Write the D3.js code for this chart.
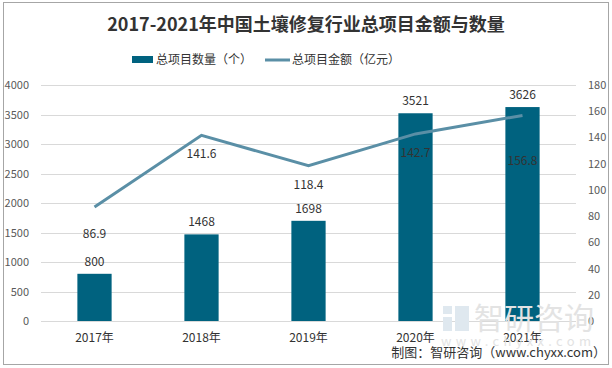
<!DOCTYPE html>
<html>
<head>
<meta charset="utf-8">
<script src="https://cdn.jsdelivr.net/npm/d3@7"></script>
<style>
  body { margin: 0; background: #fff; }
  text { font-family: "Microsoft YaHei", "Noto Sans CJK SC", sans-serif; }
</style>
</head>
<body>
<svg id="chart" width="612" height="368"></svg>
<script>
// chart data
const years = ["2017年", "2018年", "2019年", "2020年", "2021年"];
const projectCount = [800, 1468, 1698, 3521, 3626];
const projectAmount = [86.9, 141.6, 118.4, 142.7, 156.8];
const leftTicks = [0, 500, 1000, 1500, 2000, 2500, 3000, 3500, 4000];
const rightTicks = [0, 20, 40, 60, 80, 100, 120, 140, 160, 180];
// label nudges below the line points (px)
const amountLabelShift = [27, 19, 19, 19, 46];

const svg = d3.select("#chart");
const margin = { top: 85, right: 36, bottom: 47, left: 41 };
const width = 612 - margin.left - margin.right;
const height = 368 - margin.top - margin.bottom;

const barColor = "#00627f";
const lineColor = "#5a8fa6";
const fontStack = "Microsoft YaHei, Noto Sans CJK SC, sans-serif";

// outer frame
svg.append("rect")
    .attr("x", 3.5).attr("y", 2.5)
    .attr("width", 605).attr("height", 362)
    .attr("fill", "#fff").attr("stroke", "#a6a6a6");

// title
svg.append("text")
    .attr("x", 306).attr("y", 31)
    .attr("text-anchor", "middle")
    .attr("font-size", 18).attr("font-weight", "bold")
    .attr("fill", "#333")
    .text("2017-2021年中国土壤修复行业总项目金额与数量");

// legend
const legend = svg.append("g");
legend.append("rect").attr("x", 132).attr("y", 56).attr("width", 21).attr("height", 7).attr("fill", barColor);
legend.append("text").attr("x", 156).attr("y", 64).attr("font-size", 12).attr("fill", "#333").text("总项目数量（个）");
legend.append("line").attr("x1", 265).attr("x2", 290).attr("y1", 60).attr("y2", 60)
    .attr("stroke", lineColor).attr("stroke-width", 3);
legend.append("text").attr("x", 292).attr("y", 64).attr("font-size", 12).attr("fill", "#333").text("总项目金额（亿元）");

const g = svg.append("g").attr("transform", "translate(" + margin.left + "," + margin.top + ")");

const x = d3.scaleBand().domain(years).range([0, width]).paddingInner(0.68).paddingOuter(0.34);
const yLeft = d3.scaleLinear().domain([0, 4000]).range([height, 0]);
const yRight = d3.scaleLinear().domain([0, 180]).range([height, 0]);

// gridlines
g.selectAll(".grid")
    .data(leftTicks)
    .enter().append("line")
    .attr("x1", 0).attr("x2", width)
    .attr("y1", d => Math.round(yLeft(d)) + 0.5)
    .attr("y2", d => Math.round(yLeft(d)) + 0.5)
    .attr("stroke", "#d9d9d9");

// left axis
const leftAxis = g.append("g")
    .call(d3.axisLeft(yLeft).tickValues(leftTicks).tickFormat(d3.format("d")).tickSize(0).tickPadding(12));
leftAxis.select(".domain").remove();
leftAxis.selectAll("text").attr("font-size", 11).attr("fill", "#595959")
    .style("font-family", fontStack);

// right axis
const rightAxis = g.append("g")
    .attr("transform", "translate(" + width + ",0)")
    .call(d3.axisRight(yRight).tickValues(rightTicks).tickFormat(d3.format("d")).tickSize(0).tickPadding(12));
rightAxis.select(".domain").remove();
rightAxis.selectAll("text").attr("font-size", 11).attr("fill", "#595959")
    .style("font-family", fontStack);

// watermark
const wm = svg.append("g").attr("fill", "#e3e3e3");
wm.append("rect").attr("x", 443).attr("y", 306).attr("width", 9).attr("height", 8).attr("fill", "#dfe8ef");
wm.append("rect").attr("x", 443).attr("y", 317).attr("width", 9).attr("height", 14).attr("fill", "#dfe8ef");
wm.append("rect").attr("x", 455).attr("y", 306).attr("width", 14).attr("height", 25).attr("fill", "#dfe8ef");
wm.append("text").attr("x", 474).attr("y", 329).attr("font-size", 30).text("智研咨询");
wm.append("text").attr("x", 441).attr("y", 346).attr("font-size", 13)
    .attr("textLength", 150).attr("lengthAdjust", "spacing").text("www.chyxx.com");

// x axis labels
const xAxis = g.append("g")
    .attr("transform", "translate(0," + height + ")")
    .call(d3.axisBottom(x).tickSize(0).tickPadding(12));
xAxis.select(".domain").remove();
xAxis.selectAll("text").attr("font-size", 12).attr("fill", "#333")
    .style("font-family", fontStack);

// bars
g.selectAll(".bar")
    .data(projectCount)
    .enter().append("rect")
    .attr("class", "bar")
    .attr("x", (d, i) => x(years[i]))
    .attr("y", d => yLeft(d))
    .attr("width", x.bandwidth())
    .attr("height", d => height - yLeft(d))
    .attr("fill", barColor);

g.selectAll(".barLabel")
    .data(projectCount)
    .enter().append("text")
    .attr("x", (d, i) => x(years[i]) + x.bandwidth() / 2)
    .attr("y", d => yLeft(d) - 8)
    .attr("text-anchor", "middle")
    .attr("font-size", 12).attr("fill", "#333")
    .text(d => d);

// line
const line = d3.line()
    .x((d, i) => x(years[i]) + x.bandwidth() / 2)
    .y(d => yRight(d));

g.append("path")
    .datum(projectAmount)
    .attr("d", line)
    .attr("fill", "none")
    .attr("stroke", lineColor)
    .attr("stroke-width", 3);

g.selectAll(".lineLabel")
    .data(projectAmount)
    .enter().append("text")
    .attr("x", (d, i) => x(years[i]) + x.bandwidth() / 2)
    .attr("y", (d, i) => yRight(d) + amountLabelShift[i] + 4)
    .attr("text-anchor", "middle")
    .attr("font-size", 12).attr("fill", "#333")
    .text(d => d);

// source
svg.append("text")
    .attr("x", 606).attr("y", 357)
    .attr("text-anchor", "end")
    .attr("font-size", 13).attr("fill", "#333")
    .text("制图：智研咨询（www.chyxx.com）");
</script>
</body>
</html>
